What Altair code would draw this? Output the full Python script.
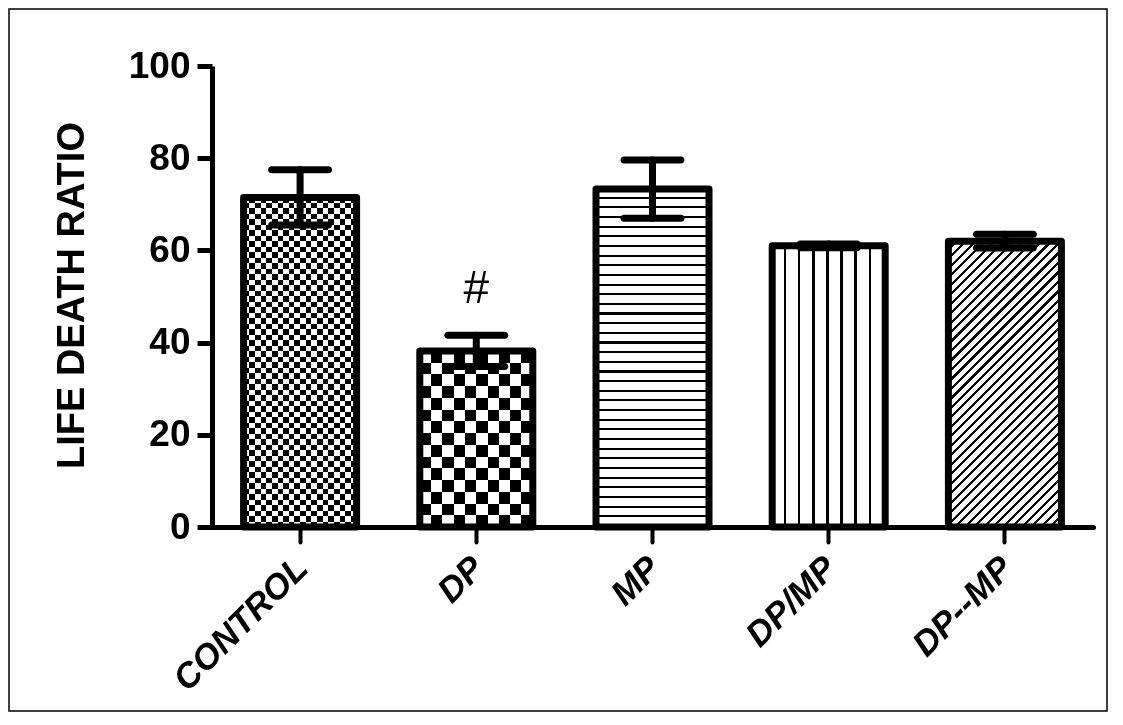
import pandas as pd
import altair as alt

# values
groups = ["CONTROL", "DP", "MP", "DP/MP", "DP--MP"]
means = [71.5, 38.2, 73.3, 61.0, 62.0]
sems = [6.0, 3.4, 6.3, 0.4, 1.5]
marks = ["", "#", "", "", ""]

data = pd.DataFrame({"group": groups, "mean": means, "sem": sems, "mark": marks})
data["lower"] = data["mean"] - data["sem"]
data["upper"] = data["mean"] + data["sem"]

W, H = 881, 461          # plot area
BAR = 113                # bar width, px
FONT = "Liberation Sans"


def stripes(n, ink, x2, y2, on="black", off="white"):
    # sharp-edged linear gradient = n stripes across the bar
    stops = []
    i = 0
    while i < n:
        a = i / n
        b = min((i + 1 - ink) / n, 1)
        c = min((i + 1) / n, 1)
        stops += [alt.GradientStop(color=off, offset=a), alt.GradientStop(color=off, offset=b),
                  alt.GradientStop(color=on, offset=b), alt.GradientStop(color=on, offset=c)]
        i += 1
    return alt.Gradient(gradient="linear", stops=stops, x1=0, y1=0, x2=x2, y2=y2)


def bar_h(g):
    return means[groups.index(g)] / 100 * H


x = alt.X("group:N", sort=groups, title=None,
          scale=alt.Scale(paddingInner=0, paddingOuter=0),
          axis=alt.Axis(labelAngle=-45, labelFont=FONT, labelFontSize=35, labelFontWeight="bold",
                        labelFontStyle="italic", labelColor="black", labelPadding=8,
                        labelOffset=-10, labelLimit=400,
                        tickSize=15, tickWidth=4, tickColor="black", tickCap="round",
                        domainWidth=5, domainColor="black", domainCap="round"))
y = alt.Y("mean:Q", scale=alt.Scale(domain=[0, 100]),
          axis=alt.Axis(values=[0, 20, 40, 60, 80, 100], title="LIFE DEATH RATIO", grid=False,
                        labelFont=FONT, labelFontSize=37, labelFontWeight="bold", labelColor="black",
                        labelPadding=7, tickSize=15, tickWidth=5, tickColor="black",
                        domainWidth=5, domainColor="black",
                        titleFont=FONT, titleFontSize=38,
                        titleFontWeight="bold", titleColor="black", titleX=-140, titleY=229,
                        titleBaseline="middle", titleAlign="center"))

base = alt.Chart(data)


def one(g):
    return base.transform_filter(alt.datum.group == g)


outline = dict(stroke="black", strokeWidth=7, strokeJoin="round", size=BAR)

# checkerboards: vertical stripes, then horizontal white stripes with difference blending
ctrl_v = one("CONTROL").mark_bar(fill=stripes(10, 0.5, 1, 0), size=BAR).encode(x=x, y=y)
ctrl_h = one("CONTROL").mark_bar(fill=stripes(30, 0.5, 0, 1, on="white", off="rgba(255,255,255,0)"),
                                 blend="difference", size=BAR).encode(x=x, y=y)
dp_v = one("DP").mark_bar(fill=stripes(5, 0.5, 1, 0), size=BAR).encode(x=x, y=y)
dp_h = one("DP").mark_bar(fill=stripes(7.5, 0.5, 0, 1, on="white", off="rgba(255,255,255,0)"),
                          blend="difference", size=BAR).encode(x=x, y=y)

mp = one("MP").mark_bar(fill=stripes(35, 0.22, 0, 1), size=BAR).encode(x=x, y=y)
dpmp = one("DP/MP").mark_bar(fill=stripes(8, 0.18, 1, 0), size=BAR).encode(x=x, y=y)

h = bar_h("DP--MP")
s = (BAR + h) / (BAR ** 2 + h ** 2)
diag = one("DP--MP").mark_bar(fill=stripes(42, 0.32, s * BAR, s * h), size=BAR).encode(x=x, y=y)

bars_outline = base.mark_bar(filled=False, **outline).encode(x=x, y=y)

err = base.mark_rule(color="black", strokeWidth=7, strokeCap="round").encode(
    x=x, y="lower:Q", y2="upper:Q")
cap_hi = base.mark_tick(color="black", thickness=7, size=64, cornerRadius=3.5, opacity=1).encode(
    x=x, y="upper:Q")
cap_lo = base.mark_tick(color="black", thickness=7, size=64, cornerRadius=3.5, opacity=1).encode(
    x=x, y="lower:Q")

sig = base.transform_filter(alt.datum.mark != "").mark_text(
    font=FONT, fontSize=46, color="black", baseline="alphabetic", dy=-32
).encode(x=x, y="upper:Q", text="mark:N")

frame = alt.Chart(pd.DataFrame({"f": [0]})).mark_rect(
    filled=False, stroke="black", strokeWidth=1.5
).encode(x=alt.value(-203), x2=alt.value(W + 14), y=alt.value(-57), y2=alt.value(H + 184))

chart = alt.layer(
    ctrl_v, ctrl_h, dp_v, dp_h, mp, dpmp, diag, bars_outline, err, cap_hi, cap_lo, sig, frame
).properties(
    width=W, height=H,
    autosize=alt.AutoSizeParams(type="none"),
    padding={"left": 204, "top": 58, "right": 15, "bottom": 185},
    background="white",
).configure_view(stroke=None)

chart.save("out.html", embed_options={"renderer": "svg", "actions": False})
